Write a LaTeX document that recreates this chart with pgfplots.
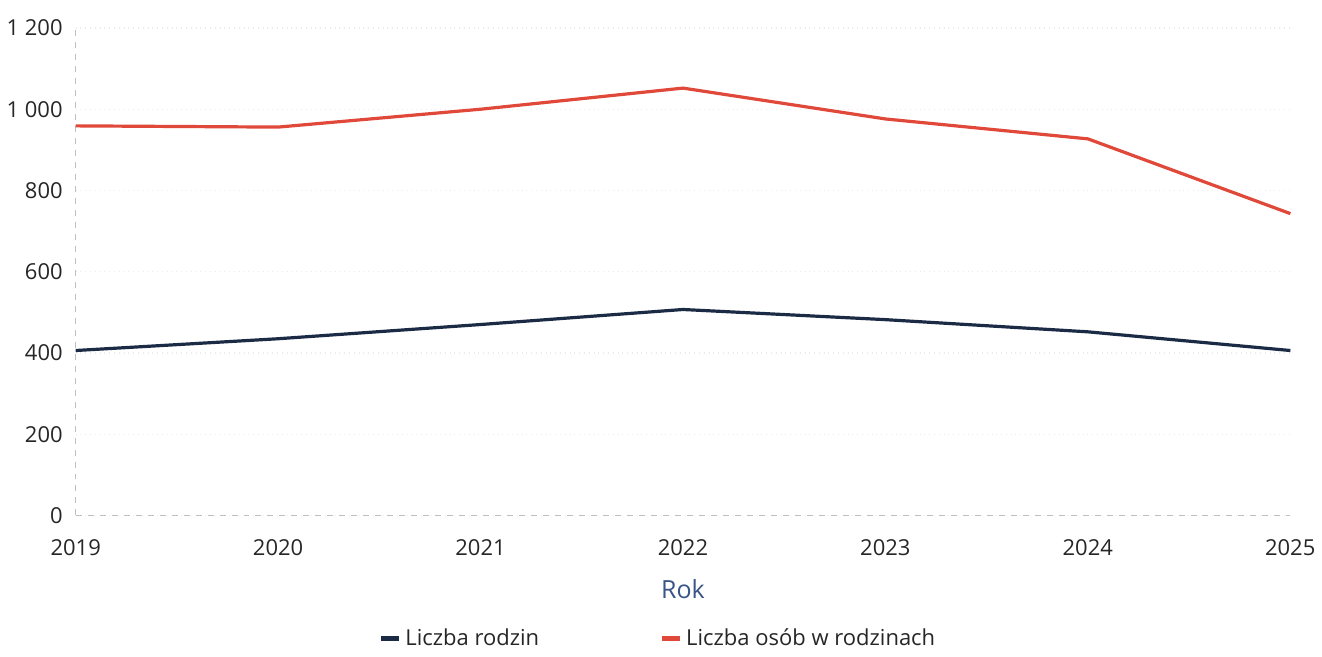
\documentclass[border=0pt]{standalone}
\usepackage{pgfplots}
\pgfplotsset{compat=1.18}
\usepackage{fontspec}
\setmainfont{Open Sans}
\definecolor{rodz}{HTML}{1B2B45}
\definecolor{osob}{HTML}{E0483A}
\definecolor{rokc}{HTML}{3A5488}
\begin{document}
\begin{tikzpicture}
\begin{axis}[
  name=ax,
  scale only axis, width=608pt, height=244pt,
  xmin=2019, xmax=2025, ymin=0, ymax=1200,
  xtick={2019,...,2025}, ytick={0,200,...,1200},
  /pgf/number format/assume math mode=true,
  /pgf/number format/1000 sep={\ },
  xticklabel style={/pgf/number format/1000 sep={}, font=\fontsize{11}{13}\selectfont, text=black!85, yshift=-8.5pt},
  yticklabel style={font=\fontsize{11}{13}\selectfont, text=black!85, xshift=-3pt},
  tick style={draw=none},
  axis line style={draw=black!25, dashed, line width=0.5pt},
  axis x line*=bottom, axis y line*=left,
  ymajorgrids, grid style={draw=black!8, dotted, line width=0.6pt},
  xlabel={Rok}, xlabel style={font=\fontsize{12.5}{14}\selectfont, text=rokc, yshift=-5pt},
  legend style={draw=none, at={(0.48,-0.215)}, anchor=north, legend columns=2,
    font=\fontsize{11}{13}\selectfont, text=black!85, /tikz/every even column/.append style={column sep=58pt}},
  legend image code/.code={\draw[#1, line width=2.6pt] (0pt,0pt) -- (9pt,0pt);},
  clip=false,
]
\addplot[rodz, line width=1.6pt] coordinates {
  (2019,406) (2020,435) (2021,470) (2022,507) (2023,482) (2024,452) (2025,406)};
\addlegendentry{Liczba rodzin}
\addplot[osob, line width=1.6pt] coordinates {
  (2019,959) (2020,956) (2021,1000) (2022,1052) (2023,976) (2024,927) (2025,743)};
\addlegendentry{Liczba osób w rodzinach}
\end{axis}
\path (ax.north west) ++(0,14pt) coordinate (topspace);
\end{tikzpicture}
\end{document}
